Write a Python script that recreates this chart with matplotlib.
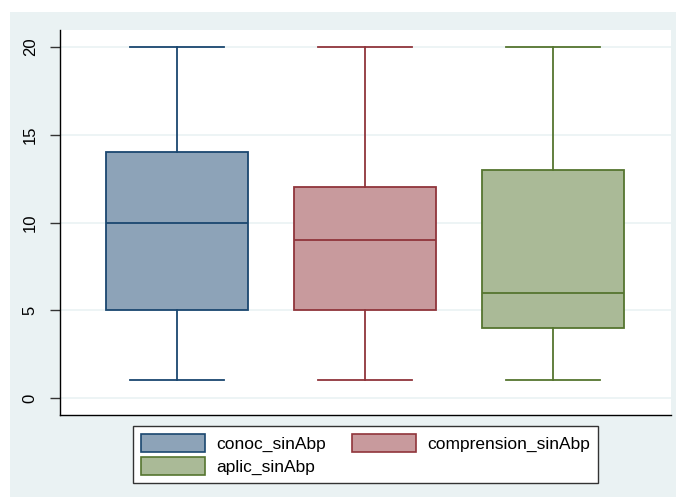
import matplotlib
matplotlib.use("Agg")
import matplotlib.pyplot as plt
from matplotlib.patches import Patch, Rectangle

plt.rcParams['font.family'] = ['Liberation Sans', 'DejaVu Sans']

# box plot summaries
labels = ['conoc_sinAbp', 'comprension_sinAbp', 'aplic_sinAbp']
whislo = [1, 1, 1]
q1 = [5, 5, 4]
med = [10, 9, 6]
q3 = [14, 12, 13]
whishi = [20, 20, 20]
yticks = [0, 5, 10, 15, 20]

edge_colors = ['#1a476f', '#90353b', '#55752f']
fill_colors = ['#8da3b8', '#c89a9d', '#aaba97']
panel_color = '#eaf2f3'

W, H = 676, 497
fig = plt.figure(figsize=(W / 100, H / 100), dpi=100)
fig.patch.set_facecolor('white')
fig.patches.append(Rectangle((10 / W, 0), 1 - 10 / W, 1 - 12 / H,
                             transform=fig.transFigure, facecolor=panel_color,
                             edgecolor='none', zorder=-10))

ax = fig.add_axes([60 / W, 1 - 415 / H, (671 - 60) / W, (415 - 30) / H])
ax.set_facecolor('white')

stats = []
for i in range(len(labels)):
    stats.append({'whislo': whislo[i], 'q1': q1[i], 'med': med[i],
                  'q3': q3[i], 'whishi': whishi[i], 'fliers': []})

positions = [1, 2, 3]
for i, s in enumerate(stats):
    ec = edge_colors[i]
    ax.bxp([s], positions=[positions[i]], widths=0.755, capwidths=[0.5],
           patch_artist=True, showfliers=False,
           boxprops=dict(facecolor=fill_colors[i], edgecolor=ec, linewidth=1.3),
           medianprops=dict(color=ec, linewidth=1.3),
           whiskerprops=dict(color=ec, linewidth=1.3),
           capprops=dict(color=ec, linewidth=1.3),
           manage_ticks=False, zorder=3)

ax.set_xlim(0.378, 3.628)
ax.set_ylim(-0.97, 20.97)
ax.set_xticks([])
ax.set_yticks(yticks)
ax.set_yticklabels([str(t) for t in yticks], rotation=90, va='center', fontsize=12)
ax.tick_params(axis='y', length=7, width=1, pad=9, color='#333333')
ax.yaxis.grid(True, color=panel_color, linewidth=1.2, zorder=0)
ax.set_axisbelow(True)
for side in ['top', 'right']:
    ax.spines[side].set_visible(False)
for side in ['left', 'bottom']:
    ax.spines[side].set_linewidth(1)
    ax.spines[side].set_color('black')

handles = [Patch(facecolor=fill_colors[i], edgecolor=edge_colors[i], linewidth=1.2)
           for i in range(len(labels))]
# legend fills column by column, so order for row-wise reading
order = [0, 2, 1]
leg = fig.legend([handles[i] for i in order], [labels[i] for i in order],
                 ncol=2, loc='upper left',
                 bbox_to_anchor=(133 / W, 1 - 426 / H), fontsize=12.5,
                 frameon=True, fancybox=False, handlelength=3.7, handleheight=1.2,
                 handletextpad=0.65, columnspacing=1.5, labelspacing=0.3,
                 borderpad=0.45, borderaxespad=0, framealpha=1)
leg.get_frame().set_edgecolor('#333333')
leg.get_frame().set_facecolor('white')
leg.get_frame().set_linewidth(1)

fig.savefig('out.png', dpi=100, facecolor=fig.get_facecolor())
